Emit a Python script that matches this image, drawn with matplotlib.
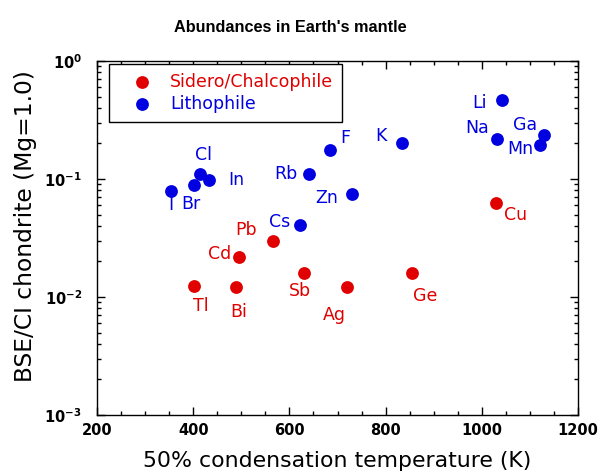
import math

import matplotlib
matplotlib.use("Agg")
import matplotlib.pyplot as plt
from matplotlib.ticker import FixedLocator, MultipleLocator, LogLocator, FuncFormatter, NullFormatter

### data
sidero_names = ["Tl", "Bi", "Cd", "Pb", "Sb", "Ag", "Ge", "Cu"]
sidero_tc = [401, 488, 496, 565, 631, 719, 854, 1029]
sidero_abund = [0.0125, 0.0121, 0.0218, 0.0297, 0.016, 0.0121, 0.016, 0.063]

litho_names = ["I", "Br", "Cl", "In", "Cs", "Rb", "F", "Zn", "K", "Na", "Li", "Mn", "Ga"]
litho_tc = [354, 401, 415, 432, 621, 640, 684, 731, 834, 1032, 1043, 1122, 1130]
litho_abund = [0.079, 0.089, 0.111, 0.099, 0.041, 0.110, 0.175, 0.0744, 0.200, 0.220, 0.467, 0.193, 0.234]

# label offsets from the dot, in pixels (right, down)
label_offsets = {
    "I": (0, 14), "Br": (-3, 19), "Cl": (3, -19), "In": (28, 0), "Rb": (-23, 0),
    "F": (15, -12), "K": (-21, -7), "Zn": (-26, 4), "Cs": (-20, -3), "Pb": (-27, -11),
    "Cd": (-20, -3), "Tl": (7, 20), "Bi": (3, 25), "Sb": (-4, 18), "Ag": (-12, 28),
    "Ge": (14, 23), "Li": (-23, 3), "Na": (-20, -11), "Ga": (-19, -10), "Mn": (-20, 4),
    "Cu": (20, 12),
}

RED = "#e00000"
BLUE = "#0000e0"


def label_points(ax, names, xs, ys, color):
    for name, x, y in zip(names, xs, ys):
        dx, dy = label_offsets[name]
        ax.annotate(name, (x, y), xytext=(dx, -dy), textcoords="offset pixels",
                    ha="center", va="center", color=color, fontsize=12.5)


def decade_label(v, pos):
    return r"$\mathbf{10^{%d}}$" % round(math.log10(v))


def main():
    fig = plt.figure(figsize=(6.05, 4.75), dpi=100)
    ax = fig.add_axes([97 / 605, 1 - 415 / 475, 481 / 605, 354 / 475])

    ax.scatter(sidero_tc, sidero_abund, s=85, color=RED, linewidths=0,
               label="Sidero/Chalcophile", zorder=3)
    ax.scatter(litho_tc, litho_abund, s=85, color=BLUE, linewidths=0,
               label="Lithophile", zorder=3)
    label_points(ax, sidero_names, sidero_tc, sidero_abund, RED)
    label_points(ax, litho_names, litho_tc, litho_abund, BLUE)

    ax.set_yscale("log")
    ax.set_xlim(200, 1200)
    ax.set_ylim(1e-3, 1)

    ax.xaxis.set_major_locator(MultipleLocator(200))
    ax.xaxis.set_minor_locator(MultipleLocator(50))
    ax.yaxis.set_major_locator(FixedLocator([1e-3, 1e-2, 1e-1, 1]))
    ax.yaxis.set_minor_locator(LogLocator(base=10, subs=range(2, 10)))
    ax.yaxis.set_minor_formatter(NullFormatter())
    ax.yaxis.set_major_formatter(FuncFormatter(decade_label))

    ax.tick_params(which="both", direction="in", top=True, right=True, width=1)
    ax.tick_params(which="major", length=5.5)
    ax.tick_params(which="minor", length=3)
    ax.tick_params(axis="x", pad=6)
    ax.tick_params(axis="y", pad=11)
    for lab in ax.get_xticklabels() + ax.get_yticklabels():
        lab.set_fontsize(10.5)
        lab.set_fontweight("bold")
    for sp in ax.spines.values():
        sp.set_linewidth(1)

    ax.set_xlabel("50% condensation temperature (K)", fontsize=15.8, va="center")
    ax.xaxis.set_label_coords(0.5, (415 - 461) / 354)
    ax.set_ylabel("BSE/CI chondrite (Mg=1.0)", fontsize=16.8)
    ax.yaxis.set_label_coords(-0.125, 0.534)

    fig.text(290 / 605, 1 - 27 / 475, "Abundances in Earth's mantle",
             ha="center", va="center", fontsize=11.7, fontweight="bold",
             family=["Liberation Sans Narrow", "Liberation Sans", "DejaVu Sans"])

    leg = ax.legend(loc="upper left", bbox_to_anchor=(0.025, 0.992), borderaxespad=0,
                    fontsize=12.5, fancybox=False, edgecolor="black", framealpha=1,
                    borderpad=0.5, handlelength=2.8, handletextpad=0.2, labelspacing=0.25)
    leg.get_frame().set_linewidth(1)
    for txt, col in zip(leg.get_texts(), [RED, BLUE]):
        txt.set_color(col)

    fig.savefig("out.png", dpi=100)


if __name__ == "__main__":
    main()
